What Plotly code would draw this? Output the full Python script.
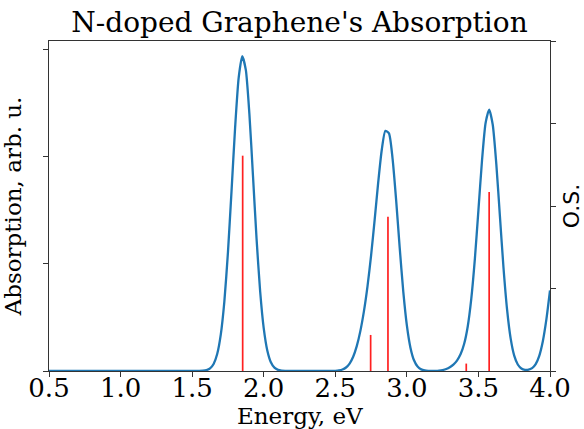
import plotly.graph_objects as go

# ---- data ----
energy = [0.5, 1.0, 1.5, 1.525, 1.55, 1.575, 1.6, 1.625, 1.65, 1.675, 1.7, 1.725, 1.75, 1.775,
          1.8, 1.825, 1.85, 1.875, 1.9, 1.925, 1.95, 1.975, 2.0, 2.025, 2.05, 2.075, 2.1,
          2.125, 2.15, 2.175, 2.2, 2.25, 2.3, 2.35, 2.4, 2.45, 2.475, 2.5, 2.525, 2.55, 2.575,
          2.6, 2.625, 2.65, 2.675, 2.7, 2.725, 2.75, 2.775, 2.8, 2.825, 2.85, 2.875, 2.9,
          2.925, 2.95, 2.975, 3.0, 3.025, 3.05, 3.075, 3.1, 3.125, 3.15, 3.175, 3.2, 3.225,
          3.25, 3.275, 3.3, 3.325, 3.35, 3.375, 3.4, 3.425, 3.45, 3.475, 3.5, 3.525, 3.55,
          3.575, 3.6, 3.625, 3.65, 3.675, 3.7, 3.725, 3.75, 3.775, 3.8, 3.825, 3.85, 3.875,
          3.9, 3.925, 3.95, 3.975, 4.0]
absorption = [0.0, 0.0, 0.0, 0.0001, 0.0006, 0.0024, 0.008, 0.0243, 0.0655, 0.158, 0.339, 0.648,
              1.105, 1.677, 2.268, 2.735, 2.938, 2.811, 2.398, 1.822, 1.234, 0.744, 0.400,
              0.192, 0.0818, 0.0311, 0.0105, 0.0032, 0.0009, 0.0002, 0.0, 0.0, 0.0, 0.0, 0.0,
              0.0001, 0.0005, 0.0018, 0.0052, 0.0138, 0.0327, 0.0695, 0.1332, 0.232, 0.372,
              0.556, 0.790, 1.076, 1.410, 1.762, 2.067, 2.242, 2.218, 1.985, 1.597, 1.151,
              0.741, 0.426, 0.218, 0.100, 0.041, 0.015, 0.0048, 0.0014, 0.0009, 0.0016,
              0.0039, 0.0091, 0.0186, 0.0347, 0.0597, 0.0972, 0.1555, 0.2516, 0.4135, 0.673,
              1.044, 1.502, 1.965, 2.314, 2.440, 2.298, 1.931, 1.447, 0.966, 0.575, 0.3045,
              0.1439, 0.0608, 0.0236, 0.0107, 0.0118, 0.0268, 0.0646, 0.142, 0.278, 0.484,
              0.752]

stick_energy = [1.853, 2.747, 2.868, 3.415, 3.575]
stick_os = [2.61, 0.437, 1.87, 0.09, 2.17]

x_ticks = [0.5, 1.0, 1.5, 2.0, 2.5, 3.0, 3.5, 4.0]
x_tick_labels = ["0.5", "1.0", "1.5", "2.0", "2.5", "3.0", "3.5", "4.0"]
left_ticks = [0, 1, 2, 3]
right_ticks = [0, 1, 2, 3, 4]

# ---- build stick segments ----
sx, sy = [], []
for e, h in zip(stick_energy, stick_os):
    sx += [e, e, None]
    sy += [0, h, None]

SERIF = "DejaVu Serif"

fig = go.Figure()
fig.add_trace(go.Scatter(x=energy, y=absorption, mode="lines",
                         line=dict(color="#1f77b4", width=2.3, shape="spline", smoothing=0.6),
                         hoverinfo="skip", showlegend=False))
fig.add_trace(go.Scatter(x=sx, y=sy, mode="lines", yaxis="y2",
                         line=dict(color="#ff2020", width=1.7),
                         hoverinfo="skip", showlegend=False))

axis_common = dict(showgrid=False, zeroline=False, showline=True, linecolor="#333333",
                   linewidth=1, ticks="outside", ticklen=5, tickcolor="#333333", tickwidth=1,
                   automargin=False)

fig.update_layout(
    width=584, height=429, autosize=False,
    margin=dict(l=49, r=34, t=41, b=58),
    paper_bgcolor="white", plot_bgcolor="white",
    font=dict(family=SERIF, color="black"),
    title=dict(text="N-doped Graphene's Absorption", x=0.5, xref="paper",
               y=1 - 22 / 429, yref="container", yanchor="middle", xanchor="center",
               font=dict(family=SERIF, size=28, color="black")),
    xaxis=dict(range=[0.5, 4.0], tickvals=x_ticks, ticktext=x_tick_labels,
               tickfont=dict(family=SERIF, size=26, color="black"),
               ticklabelstandoff=-11,
               mirror=True,
               **axis_common),
    yaxis=dict(range=[0, 3.08], tickvals=left_ticks, showticklabels=False,
               title=dict(text="Absorption, arb. u.", font=dict(family=SERIF, size=23, color="black")),
               **axis_common),
    yaxis2=dict(range=[0, 4], tickvals=right_ticks, showticklabels=False,
                overlaying="y", side="right",
                title=dict(text="O.S.", font=dict(family="DejaVu Sans", size=22, color="black")),
                **axis_common),
    annotations=[dict(text="Energy, eV", xref="paper", yref="paper",
                      x=0.5, y=(371 - 416) / 330, xanchor="center", yanchor="middle",
                      showarrow=False, font=dict(family=SERIF, size=23, color="black"))],
)

fig.write_html("out.html", config={"displayModeBar": False})
